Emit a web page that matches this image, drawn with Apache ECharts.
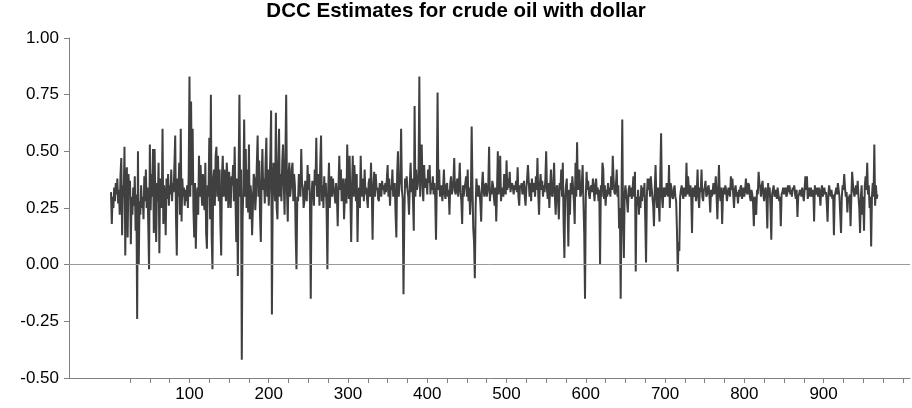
<!DOCTYPE html>
<html>
<head>
<meta charset="utf-8">
<script src="https://cdn.jsdelivr.net/npm/echarts@6/dist/echarts.min.js"></script>
<style>
  html, body { margin: 0; padding: 0; background: #ffffff; }
  #chart { width: 912px; height: 408px; }
</style>
</head>
<body>
<div id="chart"></div>
<script>
// DCC correlation estimates, observation 1 onward
const dccValues = [
  0.32,0.18,0.30,0.25,0.34,0.28,0.36,0.31,0.38,0.27,
  0.33,0.22,0.40,0.47,0.13,0.35,0.30,0.52,0.04,0.38,
  0.43,0.12,0.40,0.33,0.37,0.09,0.30,0.22,0.34,0.26,
  0.39,0.15,0.31,-0.24,0.50,0.00,0.28,0.22,0.35,0.25,
  0.30,0.20,0.39,0.28,0.42,0.25,0.34,0.18,-0.02,0.53,
  0.24,0.40,0.30,0.51,0.14,0.51,0.25,0.10,0.36,0.28,
  0.45,0.05,0.38,0.33,0.25,0.60,0.18,0.35,0.30,0.13,
  0.38,0.29,0.40,0.26,0.35,0.31,0.42,0.28,0.36,0.32,
  0.44,0.57,0.20,0.04,0.38,0.30,
  0.45,0.22,0.60,0.19,0.38,0.30,0.34,0.26,0.33,0.28,
  0.35,0.25,0.40,0.83,0.30,0.72,0.35,0.60,0.24,0.12,
  0.36,0.07,0.28,0.34,0.22,0.48,0.30,0.44,0.33,0.26,
  0.40,0.28,0.24,0.45,0.14,0.07,0.35,0.30,0.56,0.20,
  0.75,0.12,-0.02,0.38,0.42,0.26,0.48,0.52,0.30,0.48,
  0.28,0.42,0.18,0.04,0.40,0.48,0.30,0.42,0.35,0.28,
  0.45,0.38,0.25,0.41,0.33,0.25,0.39,0.35,0.44,0.28,
  0.52,0.30,0.10,0.38,-0.05,0.40,0.75,0.30,0.42,-0.42,
  0.20,0.35,0.64,0.30,0.51,0.25,0.42,0.23,
  0.53,0.20,0.35,0.31,0.13,0.25,0.40,0.38,0.24,0.31,
  0.45,0.57,0.30,0.46,0.22,0.10,0.38,0.51,0.33,0.38,
  0.27,0.45,0.56,0.30,0.42,0.26,0.35,0.48,0.68,-0.22,
  0.30,0.45,0.35,0.28,0.67,0.25,0.20,0.44,0.60,0.30,
  0.40,0.28,0.45,0.53,0.35,0.22,0.48,0.75,0.32,0.19,
  0.40,0.45,0.30,0.34,0.42,0.45,0.28,0.40,0.35,0.13,
  -0.02,0.30,0.28,0.40,0.38,0.30,0.51,0.36,0.34,0.25,
  0.28,0.37,0.31,0.28,0.44,0.33,0.40,0.27,-0.15,0.30,
  0.37,0.33,0.26,0.42,0.35,0.56,0.30,0.31,
  0.40,0.26,0.45,0.57,0.28,0.35,0.25,0.39,0.30,0.36,
  0.24,-0.02,0.33,0.45,0.25,0.35,0.39,0.30,0.38,0.34,
  0.31,0.27,0.36,0.30,0.17,0.35,0.48,0.33,0.42,0.28,
  0.32,0.38,0.20,0.30,0.38,0.27,0.53,0.35,0.29,0.48,
  0.30,0.10,0.33,0.48,0.30,0.44,0.36,0.28,0.40,0.10,
  0.30,0.34,0.25,0.48,0.33,0.30,0.38,0.28,0.42,0.31,
  0.34,0.29,0.25,0.36,0.38,0.30,0.45,0.32,0.11,0.33,
  0.41,0.30,0.40,0.33,0.34,0.29,0.28,0.36,0.34,0.30,
  0.37,0.33,0.35,0.31,0.36,0.32,0.38,0.44,
  0.30,0.38,0.26,0.35,0.33,0.42,0.30,0.32,0.36,0.22,
  0.12,0.40,0.50,0.30,0.35,0.38,0.60,0.33,0.29,-0.13,
  0.20,0.38,0.34,0.39,0.33,0.30,0.22,0.36,0.45,0.32,
  0.38,0.28,0.15,0.70,0.30,0.42,0.33,0.35,0.40,0.83,
  0.30,0.48,0.53,0.34,0.28,0.44,0.35,0.34,0.38,0.31,
  0.42,0.36,0.44,0.31,0.36,0.33,0.39,0.31,0.36,0.30,
  0.11,0.35,0.76,0.33,0.42,0.30,0.32,0.35,0.28,0.34,
  0.42,0.31,0.29,0.35,0.36,0.30,0.33,0.22,0.36,0.39,
  0.31,0.33,0.37,0.47,0.32,0.31,0.36,0.38,
  0.30,0.36,0.45,0.32,0.28,0.18,0.35,0.30,0.34,0.36,
  0.39,0.30,0.42,0.28,0.34,0.22,0.30,0.61,0.35,0.16,
  0.10,-0.06,0.25,0.38,0.33,0.30,0.35,0.32,0.27,0.19,
  0.35,0.41,0.33,0.30,0.35,0.36,0.30,0.32,0.36,0.52,
  0.28,0.33,0.31,0.37,0.35,0.30,0.26,0.34,0.19,0.33,
  0.50,0.31,0.36,0.48,0.28,0.33,0.34,0.30,0.40,0.33,
  0.31,0.46,0.33,0.38,0.34,0.41,0.32,0.35,0.36,0.34,
  0.31,0.35,0.33,0.37,0.32,0.43,0.30,0.26,0.35,0.34,
  0.36,0.31,0.33,0.37,0.30,0.26,0.34,0.38,0.44,
  0.44,0.30,0.36,0.28,0.38,0.32,0.35,0.36,0.30,0.39,
  0.33,0.47,0.31,0.22,0.35,0.40,0.33,0.37,0.30,0.35,
  0.32,0.38,0.50,0.33,0.29,0.36,0.25,0.34,0.42,0.31,
  0.30,0.36,0.45,0.30,0.22,0.34,0.35,0.28,0.20,0.36,
  0.33,0.42,0.30,0.45,0.18,0.03,0.30,0.35,0.38,0.25,
  0.08,0.33,0.22,0.36,0.31,0.39,0.34,0.28,0.18,0.45,
  0.30,0.54,0.33,0.35,0.42,0.30,0.31,0.36,0.44,0.28,
  0.14,-0.15,0.30,0.41,0.33,0.37,0.31,0.29,0.34,0.35,
  0.32,0.38,0.33,0.28,0.35,0.38,0.31,0.34,
  0.28,0.33,0.00,0.35,0.30,0.45,0.42,0.29,0.35,0.26,
  0.33,0.30,0.36,0.31,0.34,0.30,0.39,0.33,0.48,0.38,
  0.32,0.31,0.35,0.42,0.30,0.35,0.16,0.25,-0.15,0.28,
  0.64,0.20,0.03,0.31,0.35,0.31,0.28,0.23,0.33,0.35,
  0.30,0.34,0.29,0.33,0.39,0.30,0.41,-0.03,0.30,0.26,
  0.33,0.22,0.30,0.25,0.35,0.28,0.34,0.30,0.36,0.20,
  0.01,0.30,0.38,0.33,0.38,0.30,0.39,0.34,0.30,0.26,
  0.17,0.33,0.44,0.30,0.25,0.34,0.28,0.19,0.40,0.58,
  0.30,0.25,0.33,0.34,0.30,0.31,0.36,0.32,
  0.30,0.44,0.25,0.36,0.34,0.30,0.29,0.33,0.35,0.30,
  0.28,0.15,-0.03,0.10,0.06,0.30,0.33,0.35,0.31,0.29,
  0.34,0.32,0.30,0.45,0.31,0.39,0.34,0.30,0.35,0.30,
  0.14,0.34,0.30,0.31,0.35,0.28,0.32,0.42,0.30,0.25,
  0.34,0.32,0.42,0.30,0.28,0.33,0.34,0.37,0.30,0.31,
  0.34,0.35,0.30,0.23,0.33,0.30,0.32,0.36,0.31,0.34,
  0.39,0.30,0.20,0.33,0.44,0.31,0.28,0.34,0.18,0.30,
  0.34,0.31,0.35,0.33,0.28,0.31,0.34,0.32,0.30,0.39,
  0.33,0.38,0.31,0.25,0.33,0.35,0.30,0.32,
  0.27,0.33,0.30,0.34,0.35,0.29,0.31,0.34,0.30,0.33,
  0.38,0.32,0.31,0.36,0.35,0.30,0.28,0.33,0.31,0.27,
  0.17,0.30,0.25,0.22,0.33,0.31,0.41,0.36,0.34,0.30,
  0.35,0.37,0.31,0.28,0.33,0.34,0.29,0.16,0.36,0.30,
  0.34,0.25,0.11,0.31,0.33,0.35,0.30,0.31,0.33,0.29,
  0.34,0.31,0.28,0.30,0.17,0.31,0.32,0.34,0.31,0.33,
  0.34,0.30,0.31,0.35,0.32,0.35,0.31,0.33,0.30,0.34,
  0.33,0.35,0.31,0.29,0.33,0.21,0.30,0.31,0.33,0.32,
  0.30,0.34,0.31,0.28,0.33,0.39,
  0.33,0.39,0.29,0.32,0.34,0.30,0.34,0.31,0.30,0.33,
  0.19,0.35,0.31,0.32,0.34,0.30,0.34,0.31,0.26,0.33,
  0.35,0.30,0.32,0.34,0.31,0.32,0.27,0.19,0.31,0.35,
  0.32,0.30,0.33,0.29,0.31,0.13,0.30,0.32,0.34,0.31,
  0.36,0.33,0.30,0.22,0.14,0.30,0.35,0.33,0.40,0.34,
  0.30,0.32,0.23,0.30,0.28,0.31,0.17,0.30,0.41,0.36,
  0.32,0.30,0.33,0.35,0.31,0.37,0.30,0.25,0.14,0.30,
  0.35,0.22,0.30,0.15,0.35,0.39,0.33,0.45,0.31,0.35,
  0.25,0.30,0.08,0.30,0.36,0.30,0.53,0.26,0.35,0.29,0.31
];

// Axis labels and tick positions
const xLabelValues = [100, 200, 300, 400, 500, 600, 700, 800, 900];
const xTickValues = [25, 50, 75, 100, 125, 150, 175, 200, 225, 250, 275, 300, 325, 350, 375, 400,
  425, 450, 475, 500, 525, 550, 575, 600, 625, 650, 675, 700, 725, 750, 775, 800, 825, 850,
  875, 900, 925, 950, 975, 1000];
const chartTitle = 'DCC Estimates for crude oil with dollar';

const seriesData = dccValues.map((v, i) => [i + 1, v]);

const chart = echarts.init(document.getElementById('chart'), null, { renderer: 'canvas' });
const fontFamily = '"Liberation Sans", Arial, sans-serif';

chart.setOption({
  animation: false,
  backgroundColor: '#ffffff',
  title: {
    text: chartTitle,
    left: 'center',
    top: 1,
    padding: 0,
    textStyle: { fontFamily: fontFamily, fontSize: 20.5, fontWeight: 'bold', color: '#000000' }
  },
  grid: { left: 69, right: 2, top: 38, bottom: 30, containLabel: false },
  xAxis: {
    type: 'value',
    min: -52,
    max: 1009,
    axisLine: { show: true, onZero: false, lineStyle: { color: '#808080', width: 1 } },
    axisTick: { show: true, customValues: xTickValues, length: 5, inside: false,
      lineStyle: { color: '#808080', width: 1 } },
    axisLabel: { customValues: xLabelValues, color: '#000000', fontFamily: fontFamily,
      fontSize: 17, margin: 8 },
    splitLine: { show: false }
  },
  yAxis: {
    type: 'value',
    min: -0.5,
    max: 1.0,
    interval: 0.25,
    axisLine: { show: true, onZero: false, lineStyle: { color: '#808080', width: 1 } },
    axisTick: { show: true, length: 5, lineStyle: { color: '#808080', width: 1 } },
    axisLabel: { color: '#000000', fontFamily: fontFamily, fontSize: 17, margin: 10,
      formatter: v => v.toFixed(2) },
    splitLine: { show: false }
  },
  series: [{
    type: 'line',
    data: seriesData,
    showSymbol: false,
    symbol: 'none',
    lineStyle: { color: '#404040', width: 2 },
    markLine: {
      silent: true,
      symbol: ['none', 'none'],
      label: { show: false },
      lineStyle: { color: '#9a9a9a', width: 1, type: 'solid' },
      data: [{ yAxis: 0 }]
    },
    z: 3
  }]
});
</script>
</body>
</html>
